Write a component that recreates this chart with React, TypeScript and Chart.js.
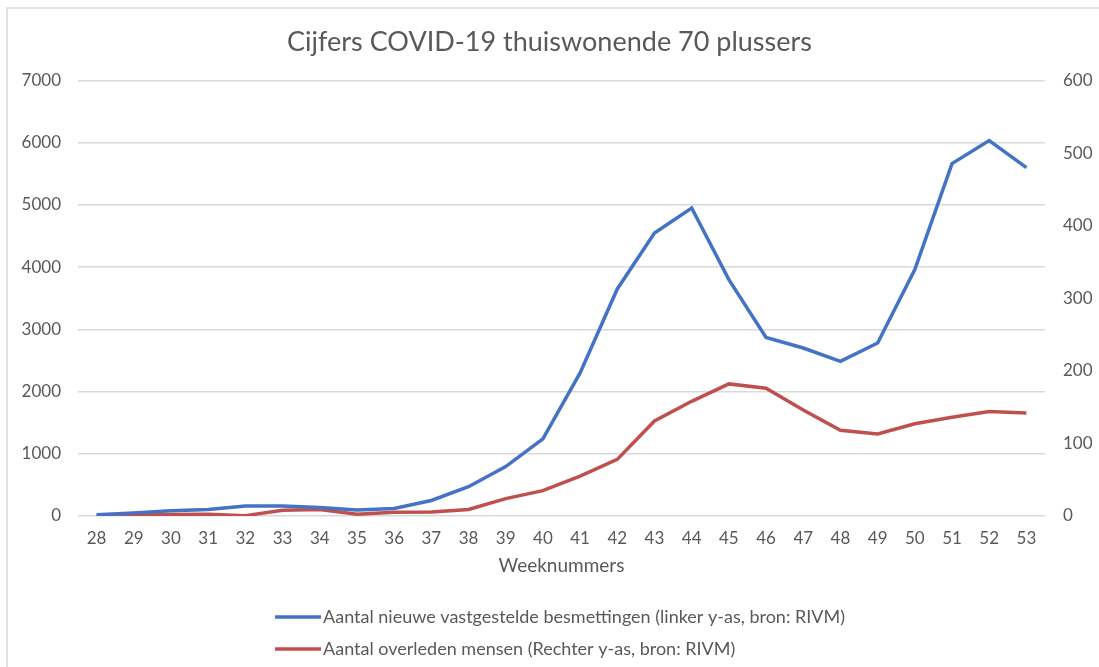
import React, { useEffect, useRef } from "react";
import { Chart, registerables } from "chart.js";

Chart.register(...registerables);

const weeks = ["28","29","30","31","32","33","34","35","36","37","38","39","40","41","42","43","44","45","46","47","48","49","50","51","52","53"];
const besmettingen = [20, 50, 85, 105, 160, 160, 135, 95, 120, 250, 470, 795, 1240, 2300, 3650, 4550, 4950, 3800, 2870, 2700, 2485, 2780, 3960, 5665, 6035, 5600];
const overleden = [0.5, 1.5, 2, 2.5, 0.5, 8, 9, 2.5, 5, 5.5, 9, 24, 35, 55, 78, 131, 158, 182, 176, 146, 118, 113, 127, 136, 144, 142];
const seriesLabels = [
  "Aantal nieuwe vastgestelde besmettingen (linker y-as, bron: RIVM)",
  "Aantal overleden mensen (Rechter y-as, bron: RIVM)",
];
const chartTitle = "Cijfers COVID-19 thuiswonende 70 plussers";
const xTitle = "Weeknummers";

const BLUE = "#4472C4";
const RED = "#C0504D";
const TEXT = "#595959";
const GRID = "#D9D9D9";
const FONT = "Lato, 'Open Sans', sans-serif";

const frame = {
  id: "frame",
  beforeDraw(chart: any) {
    const ctx = chart.ctx;
    ctx.save();
    ctx.strokeStyle = GRID;
    ctx.lineWidth = 1.5;
    ctx.beginPath();
    ctx.moveTo(7, chart.height + 5);
    ctx.lineTo(7, 8);
    ctx.lineTo(chart.width + 5, 8);
    ctx.stroke();
    ctx.restore();
  },
};

const stackedLegend = {
  id: "stackedLegend",
  afterDraw(chart: any) {
    const ctx = chart.ctx;
    ctx.save();
    const startX = 275;
    const lineLen = 46;
    const ys = [617, 649];
    chart.data.datasets.forEach((ds: any, i: number) => {
      const y = ys[i];
      ctx.strokeStyle = ds.borderColor;
      ctx.lineWidth = 3.5;
      ctx.lineCap = "butt";
      ctx.beginPath();
      ctx.moveTo(startX, y);
      ctx.lineTo(startX + lineLen, y);
      ctx.stroke();
      ctx.fillStyle = TEXT;
      ctx.font = `18px ${FONT}`;
      ctx.textBaseline = "middle";
      ctx.textAlign = "left";
      ctx.fillText(ds.label, startX + lineLen + 2, y);
    });
    ctx.restore();
  },
};

export default function App() {
  const ref = useRef<HTMLCanvasElement | null>(null);
  useEffect(() => {
    if (!ref.current) return;
    const chart = new Chart(ref.current, {
      type: "line",
      data: {
        labels: weeks,
        datasets: [
          {
            label: seriesLabels[0],
            data: besmettingen,
            borderColor: BLUE,
            backgroundColor: BLUE,
            borderWidth: 3.5,
            pointRadius: 0,
            tension: 0,
            yAxisID: "y",
          },
          {
            label: seriesLabels[1],
            data: overleden,
            borderColor: RED,
            backgroundColor: RED,
            borderWidth: 3.5,
            pointRadius: 0,
            tension: 0,
            yAxisID: "y1",
          },
        ],
      },
      options: {
        animation: false,
        responsive: true,
        maintainAspectRatio: false,
        layout: { padding: { left: 0, right: 0, top: 0, bottom: 86 } },
        plugins: {
          legend: { display: false },
          tooltip: { enabled: false },
          title: {
            display: true,
            text: chartTitle,
            color: TEXT,
            font: { family: FONT, size: 27, weight: "normal" as any, lineHeight: 1.2 },
            padding: { top: 25.8, bottom: 22.3 },
          },
        },
        scales: {
          x: {
            offset: true,
            grid: { display: false, drawTicks: false },
            border: { display: false },
            ticks: { color: TEXT, font: { family: FONT, size: 17 }, padding: 12, maxRotation: 0, autoSkip: false },
            title: {
              display: true,
              text: xTitle,
              color: TEXT,
              font: { family: FONT, size: 19 },
              padding: { top: 4, bottom: 4 },
            },
            afterFit: (s: any) => { s.height = 65; },
          },
          y: {
            position: "left",
            min: 0,
            max: 7000,
            ticks: {
              stepSize: 1000,
              color: TEXT,
              font: { family: FONT, size: 17 },
              padding: 17,
              callback: (v: any) => String(v),
            },
            grid: { color: GRID, lineWidth: 1.5, drawTicks: false },
            border: { display: false },
            afterFit: (s: any) => { s.width = 78; },
          },
          y1: {
            position: "right",
            min: 0,
            max: 600,
            ticks: {
              stepSize: 100,
              color: TEXT,
              font: { family: FONT, size: 17 },
              padding: 18,
              callback: (v: any) => String(v),
            },
            grid: { display: false, drawTicks: false },
            border: { display: false },
            afterFit: (s: any) => { s.width = 54; },
          },
        },
      },
      plugins: [frame, stackedLegend],
    });
    return () => chart.destroy();
  }, []);

  return (
    <div style={{ position: "fixed", left: 0, top: 0, width: 1099, height: 667, background: "#ffffff" }}>
      <canvas ref={ref} />
    </div>
  );
}
